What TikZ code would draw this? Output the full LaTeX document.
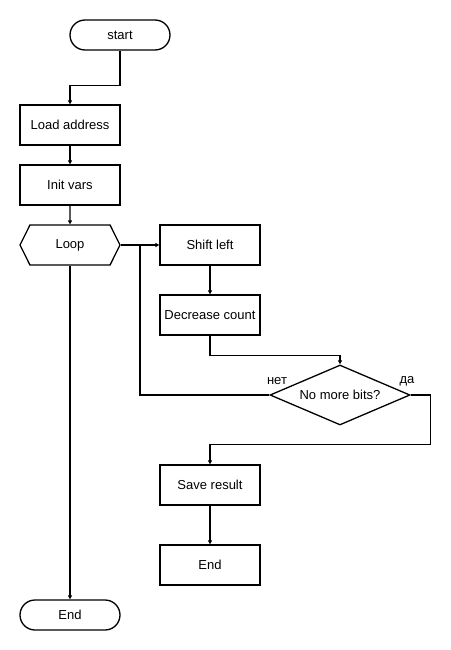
\documentclass[tikz,border=0pt]{standalone}
\usepackage{fontspec}
\setmainfont{Liberation Sans}
\usetikzlibrary{shapes.geometric,shapes.symbols,arrows.meta}
\tikzset{
  box/.style={draw,line width=1.3pt,minimum width=100pt,minimum height=40pt,inner sep=0pt},
  term/.style={box,rounded corners=15pt,minimum height=30pt},
  loopbox/.style={draw,line width=1.3pt,signal,signal to={east and west},signal pointer angle=127,minimum width=100pt,minimum height=40pt,inner sep=0pt},
  test/.style={draw,line width=1.3pt,diamond,aspect=2.33,minimum width=140pt,minimum height=60pt,inner sep=0pt},
  flow/.style={line width=1.3pt,-{Triangle[length=4pt,width=4pt]}},
  link/.style={line width=1.3pt}
}
\begin{document}
\begin{tikzpicture}[x=1pt,y=-1pt,font=\fontsize{13}{15}\selectfont]
\useasboundingbox (0,0) rectangle (450,650);
\node[term] (start) at (120,35) {start};
\node[box] (load) at (70,125) {Load address};
\node[box] (init) at (70,185) {Init vars};
\node[loopbox] (loop) at (70,245) {Loop};
\node[box] (shift) at (210,245) {Shift left};
\node[box] (dec) at (210,315) {Decrease count};
\node[test] (test) at (340,395) {No more bits?};
\node[box] (save) at (210,485) {Save result};
\node[box] (fin) at (210,565) {End};
\node[term] (stop) at (70,615) {End};
\node (no) at (277,381) {нет};
\node (yes) at (407,381) {да};
\coordinate (back) at (140,245);
% connectors
\draw[flow] (start.south) -- ++(0,35) -| (load.north);
\draw[flow] (load) -- (init);
\draw[flow] (init) -- (loop);
\draw[flow] (loop.east) -- (shift.west);
\draw[flow] (shift) -- (dec);
\draw[flow] (dec.south) -- ++(0,20) -| (test.north);
\draw[link] (test.west) -| (back);
\draw[flow] (test.east) -- ++(20,0) |- ([yshift=20pt]save.north) -- (save.north);
\draw[flow] (save) -- (fin);
\draw[flow] (loop.south) -- (stop.north);
\end{tikzpicture}
\end{document}
